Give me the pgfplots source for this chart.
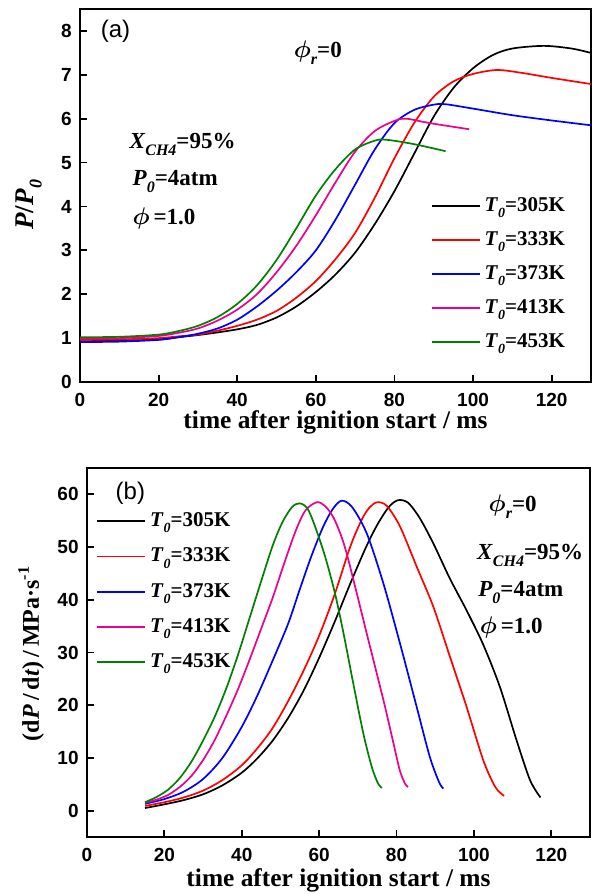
\documentclass[border=0pt]{standalone}
\usepackage{fontspec}
\usepackage{amsmath}
\setmainfont{Liberation Serif}
\newfontfamily\sansbold{Liberation Sans}
\usepackage{pgfplots}
\pgfplotsset{compat=1.18}

\definecolor{dkgreen}{RGB}{0,128,0}
% low italic subscripts as in the figure
\newcommand{\sub}[2][7]{\raisebox{-0.65ex}{\fontsize{#1}{#1}\selectfont\bfseries\itshape #2}}
\newcommand{\bphi}{$\boldsymbol{\phi}$}

\tikzset{note/.style={anchor=base west, font=\bfseries\fontsize{11.5}{13}\selectfont}}

\pgfplotsset{
  panel/.style={
    scale only axis, xmin=0, xmax=130, xtick={0,20,...,120},
    tick align=inside, xtick pos=bottom, ytick pos=left,
    major tick length=3.5pt,
    axis line style={line width=0.9pt},
    every tick/.style={black, line width=0.9pt},
    /pgf/number format/assume math mode=true,
    tick label style={font=\sansbold\bfseries\fontsize{9.5}{11}\selectfont, inner sep=0pt},
    xticklabel style={anchor=north, yshift=-5.3pt},
    yticklabel style={anchor=east, xshift=-4pt},
    label style={font=\bfseries\fontsize{12.7}{14}\selectfont, inner sep=0pt},
    legend cell align=left,
    legend image code/.code={\draw[##1] (0pt,0pt) -- (24pt,0pt);},
    legend style={draw=none, fill=none, inner sep=0pt,
      font=\bfseries\fontsize{10.5}{12}\selectfont, row sep=4.5pt},
    every axis plot/.append style={line width=0.85pt, smooth},
  },
}

\begin{document}
\begin{tikzpicture}
\path (0,0) rectangle (296pt,-447pt);

% (a) pressure ratio
\begin{axis}[panel, at={(40pt,-191pt)}, anchor=south west,
  width=255.5pt, height=186.5pt, ymin=0, ymax=8.5, ytick={0,...,8},
  xlabel={time after ignition start / ms},
  ylabel={\textit{P}/\textit{P}\sub[9]{0}},
  xlabel style={at={(axis description cs:0.5,0)}, anchor=base, yshift=-23pt},
  ylabel style={at={(axis description cs:-0.1,0.475)}, anchor=center, font=\bfseries\fontsize{13.5}{15}\selectfont},
  legend style={at={(0.686,0.29)}, anchor=west},
]
\addplot[black] coordinates {(0,0.93)(10,0.94)(20,0.97)(25,1.02)(30,1.07)(35,1.13)(40,1.2)(45,1.3)(50,1.47)(55,1.72)(60,2.05)(65,2.45)(70,2.95)(75,3.6)(80,4.35)(85,5.2)(90,6.05)(95,6.7)(100,7.15)(105,7.45)(110,7.6)(118,7.66)(125,7.6)(130,7.5)};
\addlegendentry{\textit{T}\sub{0}=305K}
\addplot[red] coordinates {(0,0.96)(10,0.97)(20,1.0)(25,1.04)(30,1.08)(35,1.17)(40,1.28)(45,1.42)(50,1.62)(55,1.92)(60,2.3)(65,2.8)(70,3.4)(75,4.2)(80,5.1)(85,5.9)(90,6.5)(95,6.85)(100,7.02)(106,7.11)(112,7.05)(120,6.93)(130,6.79)};
\addlegendentry{\textit{T}\sub{0}=333K}
\addplot[blue] coordinates {(0,0.91)(10,0.92)(20,0.96)(25,1.02)(30,1.1)(35,1.22)(40,1.42)(45,1.72)(50,2.08)(55,2.5)(60,3.0)(65,3.7)(70,4.5)(75,5.3)(80,5.9)(85,6.2)(90,6.32)(93,6.33)(100,6.23)(110,6.08)(120,5.96)(130,5.85)};
\addlegendentry{\textit{T}\sub{0}=373K}
\addplot[magenta] coordinates {(0,1.0)(10,1.0)(20,1.05)(25,1.12)(30,1.22)(35,1.4)(40,1.65)(45,2.0)(50,2.5)(55,3.1)(60,3.8)(65,4.55)(70,5.25)(75,5.72)(80,5.95)(83,6.0)(89,5.9)(99,5.76)};
\addlegendentry{\textit{T}\sub{0}=413K}
\addplot[dkgreen] coordinates {(0,1.02)(10,1.03)(20,1.08)(25,1.16)(30,1.28)(35,1.48)(40,1.78)(45,2.2)(50,2.78)(55,3.5)(60,4.25)(65,4.85)(70,5.3)(75,5.5)(78,5.52)(85,5.42)(93,5.26)};
\addlegendentry{\textit{T}\sub{0}=453K}

\node[anchor=west, font=\sansbold\fontsize{12}{13}\selectfont] at (axis cs:3.5,8.0) {(a)};
\node[note] at (axis cs:52.6,7.40) {\bphi\sub[8]{r}=0};
\node[note] at (axis cs:10.8,5.31) {\textit{X}\sub[8]{CH4}=95\%};
\node[note] at (axis cs:11.6,4.48) {\textit{P}\sub[8]{0}=4atm};
\node[note] at (axis cs:11.6,3.60) {\bphi\,=1.0};
\end{axis}

% (b) rate of pressure rise
\begin{axis}[panel, at={(43.5pt,-418.5pt)}, anchor=south west,
  width=251.5pt, height=184.5pt, ymin=-5, ymax=65, ytick={0,10,...,60},
  xlabel={time after ignition start / ms},
  ylabel={(d\textit{P}\,/\,d\textit{t})\,/\,MPa·s\raisebox{0.9ex}{\fontsize{8}{9}\selectfont -1}},
  xlabel style={at={(axis description cs:0.5,0)}, anchor=base, yshift=-24.8pt},
  ylabel style={at={(axis description cs:-0.111,0.496)}, anchor=center, font=\bfseries\fontsize{12}{13}\selectfont},
  legend style={at={(0.018,0.665)}, anchor=west, row sep=5.2pt},
]
\addplot[black] coordinates {(15,0.5)(20,1.2)(25,2.0)(30,3.1)(35,4.8)(40,7.2)(44,9.9)(48,13.3)(52,17.6)(56,22.8)(60,29)(64,35.8)(68,43)(72,49.8)(75,54.2)(78,57.6)(80.4,58.9)(83,58.4)(86,55.5)(89.5,50.7)(93.8,44)(98.1,38)(102.4,31.5)(106.7,23.5)(111,13.4)(114.5,5.8)(117.2,2.5)};
\addlegendentry{\textit{T}\sub{0}=305K}
\addplot[red] coordinates {(15,0.9)(20,1.6)(25,2.5)(30,3.8)(35,5.8)(40,8.6)(44,11.8)(48,15.7)(52,20.8)(56,26.6)(60,33.2)(64,41)(68,50)(71,55.2)(73,57.5)(75,58.5)(77.5,57.8)(80.9,53.9)(85.2,46.3)(89.5,38.7)(93.8,29.2)(98.1,19.7)(102.4,9.6)(105.5,4.5)(107.8,2.8)};
\addlegendentry{\textit{T}\sub{0}=333K}
\addplot[blue] coordinates {(15,1.3)(20,2.2)(25,3.6)(30,6.0)(35,10.0)(40,15.9)(44,21.8)(48,28.5)(52,35.5)(55,42)(58,48.3)(61,53.8)(63.5,57.2)(65.8,58.8)(68.5,57.6)(72.3,52.6)(76.6,43.1)(80.9,31.7)(85.2,19.7)(88.6,10.2)(91,5.4)(92.1,4.2)};
\addlegendentry{\textit{T}\sub{0}=373K}
\addplot[magenta] coordinates {(15,1.5)(18,2.1)(21,3.0)(24,4.5)(27,6.6)(30,9.6)(33,13.4)(36,18)(39,23)(42,28.6)(45,34.5)(48,40.4)(51,47)(54,53.2)(56.5,57)(59.4,58.5)(61.5,57.8)(63.7,55.6)(66,51.5)(68,46.3)(72.3,33.6)(76.6,21)(79.2,12.8)(80.9,7.5)(82.3,5.0)(83,4.5)};
\addlegendentry{\textit{T}\sub{0}=413K}
\addplot[dkgreen] coordinates {(15,1.6)(18,2.6)(21,4.0)(24,6.2)(27,9.3)(30,13.3)(33,17.8)(36,23.2)(39,29.5)(42,36.5)(45,43.5)(48,50.3)(50.5,54.7)(53,57.6)(55,58.3)(57,57.3)(59,53.8)(61.5,48.3)(64,41.5)(66.2,34)(68.8,24.2)(71.4,14.7)(73.6,8.3)(75.2,5.2)(76.2,4.3)};
\addlegendentry{\textit{T}\sub{0}=453K}

\node[anchor=west, font=\sansbold\fontsize{12}{13}\selectfont] at (axis cs:5.6,60.3) {(b)};
\node[note] at (axis cs:102,56.8) {\bphi\sub[8]{r}=0};
\node[note] at (axis cs:99,47.7) {\textit{X}\sub[8]{CH4}=95\%};
\node[note] at (axis cs:99.3,40.6) {\textit{P}\sub[8]{0}=4atm};
\node[note] at (axis cs:99.7,33.6) {\bphi\,=1.0};
\end{axis}
\end{tikzpicture}
\end{document}
